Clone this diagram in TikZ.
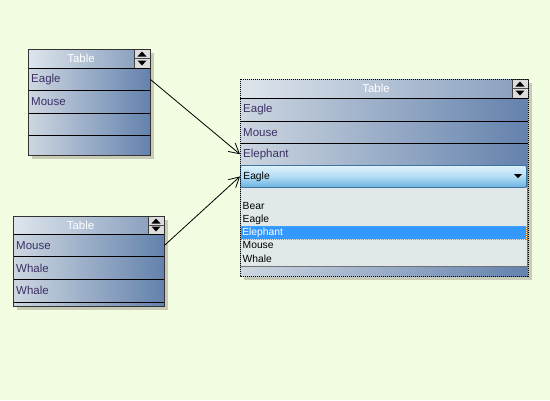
\documentclass[tikz,border=0pt]{standalone}
\usepackage{fontspec}
\setmainfont{Liberation Sans}
\usetikzlibrary{arrows.meta}
\definecolor{bgc}{HTML}{F3FDE2}
\definecolor{shadowc}{HTML}{C8CCB6}
\definecolor{rowL}{HTML}{CED7E1}
\definecolor{rowR}{HTML}{6482AD}
\definecolor{hdL}{HTML}{DEE5EC}
\definecolor{hdR}{HTML}{8CA2C0}
\definecolor{rowtxt}{HTML}{3A3063}
\definecolor{btnc}{HTML}{DCDCDC}
\definecolor{comboT}{HTML}{E0F2FC}
\definecolor{comboM}{HTML}{B2DCF4}
\definecolor{comboB}{HTML}{6AB2E0}
\definecolor{comboE}{HTML}{3F74A0}
\definecolor{listc}{HTML}{E1E8EA}
\definecolor{selc}{HTML}{3399FF}
\definecolor{selb}{HTML}{E8860A}
\begin{document}
\begin{tikzpicture}[x=1pt,y=-1pt,
  rowbox/.style={anchor=north west, inner xsep=3pt, inner ysep=0pt, align=left,
    font=\fontsize{11.5}{13}\selectfont, text=rowtxt},
  hdtext/.style={font=\fontsize{11.5}{13}\selectfont, text=white, inner sep=0pt},
  listitem/.style={anchor=west, inner xsep=1.5pt, inner ysep=0pt, font=\fontsize{10.3}{11}\selectfont, text=black},
  btnbox/.style={anchor=north west, draw=black!75, fill=btnc, inner sep=0pt, minimum width=16pt},
  conn/.style={draw=black, line width=0.8pt, -{Straight Barb[length=10pt,width=11pt,line width=0.8pt]}},
  divider/.style={draw=black, line width=0.9pt},
  frame/.style={draw=black!80, line width=0.9pt},
]
\fill[bgc] (0,0) rectangle (550,400);
\useasboundingbox (0,0) rectangle (550,400);

% ---------- Table 1 ----------
\fill[shadowc] (32,53) rectangle (154,159);
\shade[left color=rowL, right color=rowR] (28,49) rectangle (150,155);
\shade[left color=hdL, right color=hdR] (28,49) rectangle (134,68);
\node[hdtext] (t1h) at (81,58.5) {Table};
\node[btnbox, minimum height=19pt] (t1btn) at (134,49) {};
\fill (142,51.5) -- (146.5,56.5) -- (137.5,56.5) -- cycle;
\fill (137.5,60.5) -- (146.5,60.5) -- (142,65.5) -- cycle;
\draw[black!70] (134,58.5) -- (150,58.5);
\node[rowbox, text width=116pt, minimum height=22.5pt] (t1a) at (28,68) {Eagle};
\node[rowbox, text width=116pt, minimum height=22.5pt] (t1b) at (28,90.5) {Mouse};
\node[rowbox, text width=116pt, minimum height=22pt] (t1c) at (28,113) {};
\draw[divider] (28,68) -- (150,68);
\draw[divider] (28,90.5) -- (150,90.5);
\draw[divider] (28,113) -- (150,113);
\draw[divider] (28,135) -- (150,135);
\draw[frame] (28,49) rectangle (150,155);

% ---------- Table 2 ----------
\fill[shadowc] (17,220) rectangle (168,310);
\shade[left color=rowL, right color=rowR] (13,216) rectangle (164,306);
\shade[left color=hdL, right color=hdR] (13,216) rectangle (148,234);
\node[hdtext] (t2h) at (80.5,225) {Table};
\node[btnbox, minimum height=18pt] (t2btn) at (148,216) {};
\fill (156,218.5) -- (160.5,223.5) -- (151.5,223.5) -- cycle;
\fill (151.5,226.5) -- (160.5,226.5) -- (156,231.5) -- cycle;
\draw[black!70] (148,225) -- (164,225);
\node[rowbox, text width=145pt, minimum height=22.5pt] (t2a) at (13,234) {Mouse};
\node[rowbox, text width=145pt, minimum height=22.5pt] (t2b) at (13,256.5) {Whale};
\node[rowbox, text width=145pt, minimum height=23pt] (t2c) at (13,279) {Whale};
\draw[divider] (13,234) -- (164,234);
\draw[divider] (13,256.5) -- (164,256.5);
\draw[divider] (13,279) -- (164,279);
\draw[divider] (13,302) -- (164,302);
\draw[frame] (13,216) rectangle (164,306);

% ---------- Table 3 ----------
\fill[shadowc] (244,83) rectangle (532,280);
\shade[left color=rowL, right color=rowR] (240,79) rectangle (528,276);
\shade[left color=hdL, right color=hdR] (240,79) rectangle (512,98);
\node[hdtext] (t3h) at (376,88.5) {Table};
\node[btnbox, minimum height=19pt] (t3btn) at (512,79) {};
\fill (520,81.5) -- (524.5,86.5) -- (515.5,86.5) -- cycle;
\fill (515.5,90.5) -- (524.5,90.5) -- (520,95.5) -- cycle;
\draw[black!70] (512,88.5) -- (528,88.5);
\node[rowbox, text width=282pt, minimum height=23pt] (t3a) at (240,98) {Eagle};
\node[rowbox, text width=282pt, minimum height=22pt] (t3b) at (240,121) {Mouse};
\node[rowbox, text width=282pt, minimum height=22pt] (t3c) at (240,143) {Elephant};
\draw[divider] (240,98) -- (528,98);
\draw[divider] (240,121) -- (528,121);
\draw[divider] (240,143) -- (528,143);
% dropdown list
\fill[listc] (240,187) rectangle (527,266);
\draw[black!35] (240,187) rectangle (527,266);
\draw[black!55, line width=1pt] (241,266) -- (527,266) -- (527,188);
\node[listitem] (l1) at (241,206.5) {Bear};
\node[listitem] (l2) at (241,219.5) {Eagle};
\node[anchor=north west, fill=selc, draw=selb, dash pattern=on 1pt off 1pt, line width=0.6pt,
  minimum width=285pt, minimum height=13pt, inner xsep=1.5pt, inner ysep=0pt,
  text width=282pt, align=left, font=\fontsize{10.3}{11}\selectfont, text=white] (l3) at (240.5,226) {Elephant};
\node[listitem] (l4) at (241,245.5) {Mouse};
\node[listitem] (l5) at (241,258.5) {Whale};
% combo box
\node[anchor=north west, rounded corners=2pt, draw=comboE, line width=0.8pt,
  top color=comboT, bottom color=comboB, middle color=comboM,
  minimum width=286pt, minimum height=22pt, inner xsep=3pt, inner ysep=0pt,
  text width=280pt, align=left, font=\fontsize{10.3}{11}\selectfont, text=black] (t3d) at (240,165) {Eagle};
\fill (514,174) -- (522,174) -- (518,178) -- cycle;
% selection border
\draw[black, dash pattern=on 1pt off 1pt, line width=0.8pt] (240,79) rectangle (528,276);

% ---------- connectors ----------
\draw[conn] (t1a.east) -- (t3c.west);
\draw[conn] (t2a.east) -- (t3d.west);
\end{tikzpicture}
\end{document}
